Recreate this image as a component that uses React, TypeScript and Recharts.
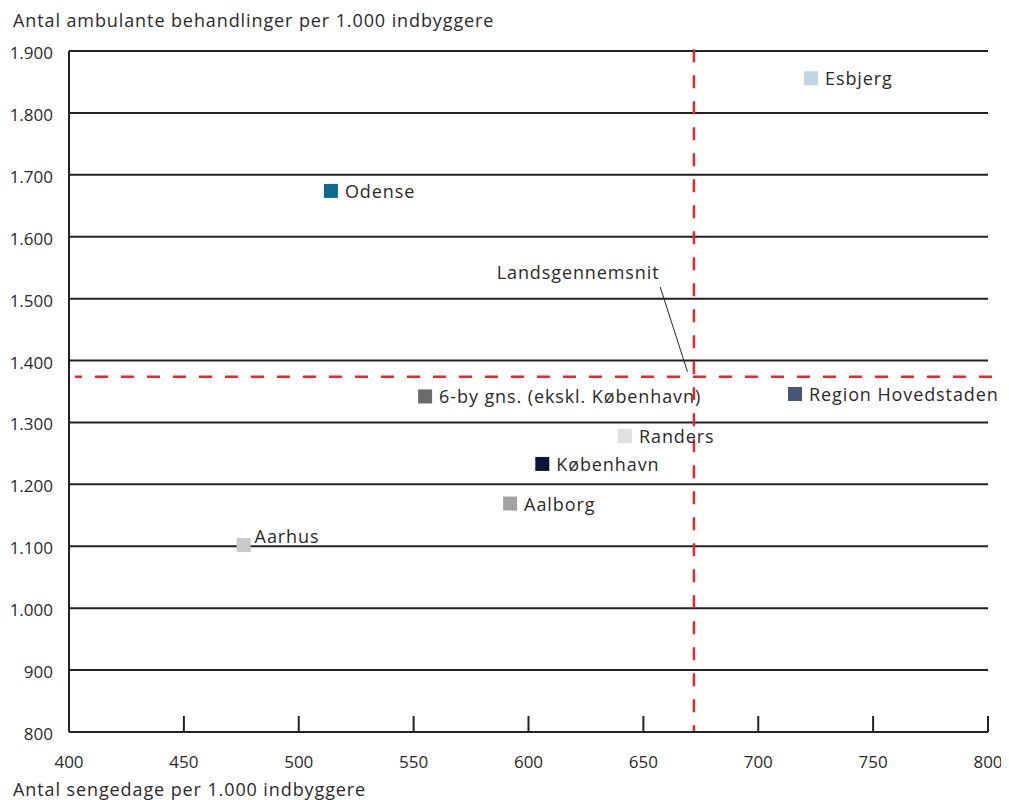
import React from "react";
import {
  ScatterChart,
  Scatter,
  XAxis,
  YAxis,
  CartesianGrid,
  ReferenceLine,
  ReferenceDot,
} from "recharts";

// data
const byer = [
  "Esbjerg",
  "Odense",
  "6-by gns. (ekskl. København)",
  "Region Hovedstaden",
  "Randers",
  "København",
  "Aalborg",
  "Aarhus",
];
const sengedage = [723, 514, 555, 716, 642, 606, 592, 476];
const ambulante = [1856, 1674, 1342, 1346, 1278, 1233, 1169, 1102];

const xTicks = [400, 450, 500, 550, 600, 650, 700, 750, 800];
const yTicks = [800, 900, 1000, 1100, 1200, 1300, 1400, 1500, 1600, 1700, 1800, 1900];

const landsX = 672;
const landsY = 1374;

const colors = [
  "#bdd7e5",
  "#0d6a8e",
  "#6b6b6b",
  "#465578",
  "#e1e1e1",
  "#0b1535",
  "#a2a2a2",
  "#c9c9c9",
];

const FONT = "'Open Sans', sans-serif";
const TEXT = "#2a2a2a";
const RED = "#e8262b";
const LS = 0.9; // letter spacing for word labels

const points = byer.map((name, i) => ({
  name,
  x: sengedage[i],
  y: ambulante[i],
  idx: i,
}));

const fmt = (v: number) => String(v).replace(/\B(?=(\d{3})+(?!\d))/g, ".");

const Marker = (props: any) => {
  const { cx, cy, payload } = props;
  const above = payload.name === "Aarhus";
  return (
    <g>
      <rect x={cx - 7} y={cy - 7} width={14} height={14} fill={colors[payload.idx]} />
      <text
        x={cx + (above ? 11 : 14)}
        y={cy + (above ? -9 : 0)}
        dominantBaseline="central"
        fontFamily={FONT}
        fontSize={18}
        letterSpacing={LS}
        fill={TEXT}
      >
        {payload.name}
      </text>
    </g>
  );
};

const XTick = (props: any) => {
  const { x, y, payload } = props;
  return (
    <g>
      {payload.value !== 400 && (
        <line x1={x} x2={x} y1={y} y2={y - 16} stroke="#222" strokeWidth={2} />
      )}
      <text
        x={x}
        y={y + 29}
        textAnchor="middle"
        dominantBaseline="central"
        fontFamily={FONT}
        fontSize={17}
        fill={TEXT}
      >
        {payload.value}
      </text>
    </g>
  );
};

const LandsLabel = (props: any) => {
  const vb = props.viewBox || {};
  return (
    <text
      x={vb.x + (vb.width || 0) / 2}
      y={vb.y + (vb.height || 0) / 2}
      textAnchor="middle"
      dominantBaseline="central"
      fontFamily={FONT}
      fontSize={18}
      letterSpacing={LS}
      fill={TEXT}
    >
      Landsgennemsnit
    </text>
  );
};

const titleStyle: React.CSSProperties = {
  position: "absolute",
  left: 5,
  fontFamily: FONT,
  fontSize: 18,
  letterSpacing: LS,
  color: TEXT,
  whiteSpace: "nowrap",
  lineHeight: "24px",
};

const App = () => {
  return (
    <div style={{ position: "relative", width: 1001, height: 792 }}>
      <div style={{ ...titleStyle, top: 0 }}>
        Antal ambulante behandlinger per 1.000 indbyggere
      </div>
      <ScatterChart
        width={1001}
        height={792}
        margin={{ top: 43, right: 21, left: 0, bottom: 0 }}
      >
        <CartesianGrid horizontal vertical={false} stroke="#222" strokeWidth={2} />
        <XAxis
          type="number"
          dataKey="x"
          domain={[400, 800]}
          ticks={xTicks}
          height={68}
          tickLine={false}
          tickSize={0}
          tickMargin={0}
          axisLine={{ stroke: "#222", strokeWidth: 2 }}
          tick={<XTick />}
          interval={0}
        />
        <YAxis
          type="number"
          dataKey="y"
          domain={[800, 1900]}
          ticks={yTicks}
          width={61}
          tickLine={false}
          tickSize={0}
          tickMargin={16}
          axisLine={{ stroke: "#222", strokeWidth: 2 }}
          tickFormatter={fmt}
          tick={{ fontFamily: FONT, fontSize: 17, fill: TEXT, dy: 2 }}
          interval={0}
        />
        <ReferenceLine
          segment={[
            { x: 402.6, y: landsY },
            { x: 804, y: landsY },
          ]}
          stroke={RED}
          strokeWidth={2.5}
          strokeDasharray="13 13"
          strokeDashoffset={6}
          ifOverflow="visible"
        />
        <ReferenceLine
          segment={[
            { x: landsX, y: 1903 },
            { x: landsX, y: 800 },
          ]}
          stroke={RED}
          strokeWidth={2.5}
          strokeDasharray="13 13"
          ifOverflow="visible"
        />
        <ReferenceLine
          segment={[
            { x: 657.3, y: 1519 },
            { x: 669.2, y: 1382 },
          ]}
          stroke="#222"
          strokeWidth={1}
          ifOverflow="visible"
        />
        <ReferenceDot
          x={621.6}
          y={1543}
          r={0}
          fill="none"
          stroke="none"
          ifOverflow="visible"
          label={<LandsLabel />}
        />
        <Scatter data={points} shape={<Marker />} isAnimationActive={false} />
      </ScatterChart>
      <div style={{ ...titleStyle, top: 769 }}>
        Antal sengedage per 1.000 indbyggere
      </div>
    </div>
  );
};

export default App;
